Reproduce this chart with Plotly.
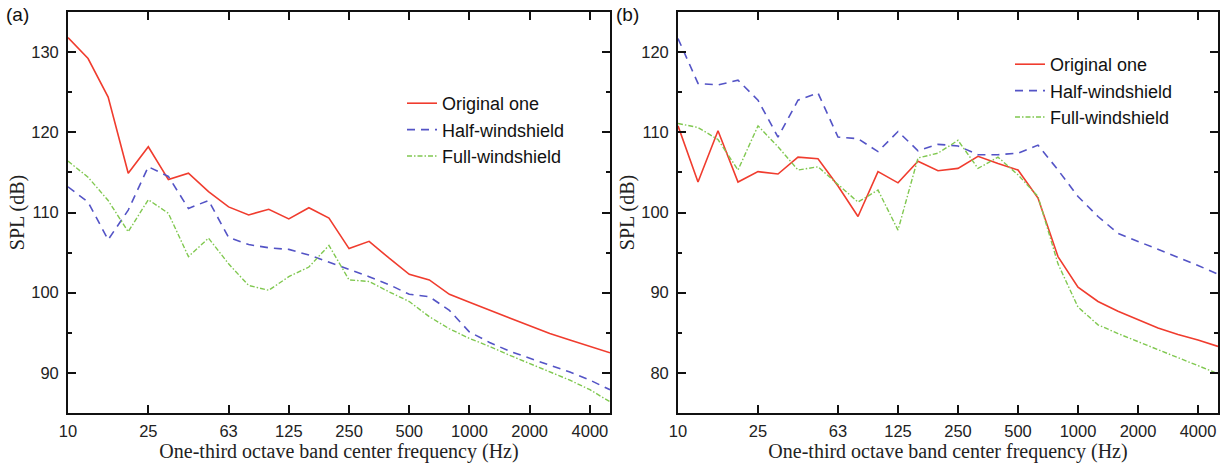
import plotly.graph_objects as go

bands = ["10", "12.5", "16", "20", "25", "31.5", "40", "50", "63", "80", "100", "125",
         "160", "200", "250", "315", "400", "500", "630", "800", "1000", "1250", "1600",
         "2000", "2500", "3150", "4000", "5000"]
tick_bands = ["10", "25", "63", "125", "250", "500", "1000", "2000", "4000"]

a_original = [131.8, 129.2, 124.4, 114.9, 118.2, 114.1, 114.9, 112.6, 110.7, 109.7, 110.4, 109.2,
              110.6, 109.3, 105.5, 106.4, 104.3, 102.3, 101.6, 99.8, 98.8, 97.8, 96.8, 95.8,
              94.9, 94.1, 93.3, 92.5]
a_half = [113.2, 111.3, 106.6, 110.3, 115.7, 114.5, 110.5, 111.5, 106.9, 106.0, 105.6, 105.4,
          104.7, 103.8, 102.9, 102.0, 101.0, 99.8, 99.5, 97.8, 95.1, 93.8, 92.7, 91.8,
          91.0, 90.1, 89.1, 87.9]
a_full = [116.4, 114.4, 111.5, 107.6, 111.6, 109.9, 104.5, 106.8, 103.6, 100.9, 100.3, 102.0,
          103.2, 105.9, 101.6, 101.4, 100.1, 98.9, 97.0, 95.5, 94.3, 93.3, 92.2, 91.2,
          90.1, 89.1, 87.9, 86.4]

b_original = [110.8, 103.8, 110.2, 103.8, 105.1, 104.8, 106.9, 106.7, 103.3, 99.5, 105.1, 103.7,
              106.4, 105.2, 105.5, 107.0, 106.1, 105.3, 101.8, 94.5, 90.7, 88.9, 87.7, 86.6,
              85.6, 84.8, 84.1, 83.3]
b_half = [121.7, 116.1, 115.9, 116.5, 114.0, 109.4, 114.0, 114.9, 109.4, 109.2, 107.6, 110.1,
          107.7, 108.5, 108.3, 107.2, 107.2, 107.4, 108.4, 105.3, 102.0, 99.5, 97.4, 96.4,
          95.5, 94.5, 93.4, 92.3]
b_full = [111.1, 110.6, 109.1, 105.3, 110.8, 108.2, 105.3, 105.7, 103.5, 101.3, 102.8, 97.8,
          106.8, 107.4, 109.0, 105.5, 106.9, 104.7, 102.0, 93.6, 88.2, 86.0, 84.9, 83.9,
          82.9, 82.0, 81.0, 79.9]

series_names = ["Original one", "Half-windshield", "Full-windshield"]
RED, BLUE, GREEN = "#f03c2e", "#5454c6", "#80c850"
styles = [dict(color=RED, width=1.6, dash="solid"),
          dict(color=BLUE, width=1.6, dash="8px,6px"),
          dict(color=GREEN, width=1.4, dash="5px,2px,1.5px,2px")]

fig = go.Figure()
for (vals, name, st) in zip([a_original, a_half, a_full], series_names, styles):
    fig.add_trace(go.Scatter(x=bands, y=vals, mode="lines", name=name, line=st,
                             xaxis="x", yaxis="y", legend="legend"))
for (vals, name, st) in zip([b_original, b_half, b_full], series_names, styles):
    fig.add_trace(go.Scatter(x=bands, y=vals, mode="lines", name=name, line=st,
                             xaxis="x2", yaxis="y2", legend="legend2"))

W, H = 1223, 465
ytop, ybot = 12, 413
ydom = [1 - ybot / H, 1 - ytop / H]

tickfont = dict(family="Liberation Sans, Arial", size=16.5, color="#222")
titlefont = dict(family="Liberation Serif, Times New Roman", size=20, color="#222")

def xaxis(dom, anchor):
    return dict(type="category", range=[0, 27], domain=dom, anchor=anchor, automargin=False,
                tickmode="array", tickvals=tick_bands, ticktext=tick_bands,
                ticks="inside", ticklen=8, tickwidth=1.5, tickcolor="#111",
                showline=True, linewidth=1.8, linecolor="#111", mirror="ticks",
                showgrid=False, zeroline=False, tickfont=tickfont, ticklabelstandoff=2,
                title=dict(text="One-third octave band center frequency (Hz)",
                           font=titlefont, standoff=5))

def yaxis(rng, tick0, anchor):
    return dict(range=rng, domain=ydom, anchor=anchor, tick0=tick0, dtick=10, automargin=False,
                ticks="inside", ticklen=8, tickwidth=1.5, tickcolor="#111",
                minor=dict(dtick=5, tick0=tick0, ticks="inside", ticklen=4,
                           tickwidth=1.5, tickcolor="#111", showgrid=False),
                showline=True, linewidth=1.8, linecolor="#111", mirror="ticks",
                showgrid=False, zeroline=False, tickfont=tickfont, ticklabelstandoff=4,
                title=dict(text="SPL (dB)", font=titlefont, standoff=1))

legfont = dict(family="Liberation Sans, Arial", size=18, color="#111")

fig.update_layout(
    width=W, height=H,
    margin=dict(l=0, r=0, t=0, b=0, autoexpand=False),
    paper_bgcolor="white", plot_bgcolor="white",
    xaxis=xaxis([68 / W, 610 / W], "y"),
    yaxis=yaxis([85, 135], 90, "x"),
    xaxis2=xaxis([678 / W, 1218 / W], "y2"),
    yaxis2=yaxis([75, 125], 80, "x2"),
    legend=dict(x=(443 - 41) / W, y=1 - 85 / H, xanchor="left", yanchor="top",
                font=legfont, bgcolor="rgba(255,255,255,0)", tracegroupgap=0),
    legend2=dict(x=(1051 - 41) / W, y=1 - 46 / H, xanchor="left", yanchor="top",
                 font=legfont, bgcolor="rgba(255,255,255,0)", tracegroupgap=0),
    annotations=[
        dict(text="(a)", x=4 / W, y=1 - 15 / H, xref="paper", yref="paper",
             xanchor="left", yanchor="middle", showarrow=False,
             font=dict(family="Liberation Sans, Arial", size=19, color="#111")),
        dict(text="(b)", x=614 / W, y=1 - 15 / H, xref="paper", yref="paper",
             xanchor="left", yanchor="middle", showarrow=False,
             font=dict(family="Liberation Sans, Arial", size=19, color="#111")),
    ],
    showlegend=True,
)

fig.write_html("out.html")
